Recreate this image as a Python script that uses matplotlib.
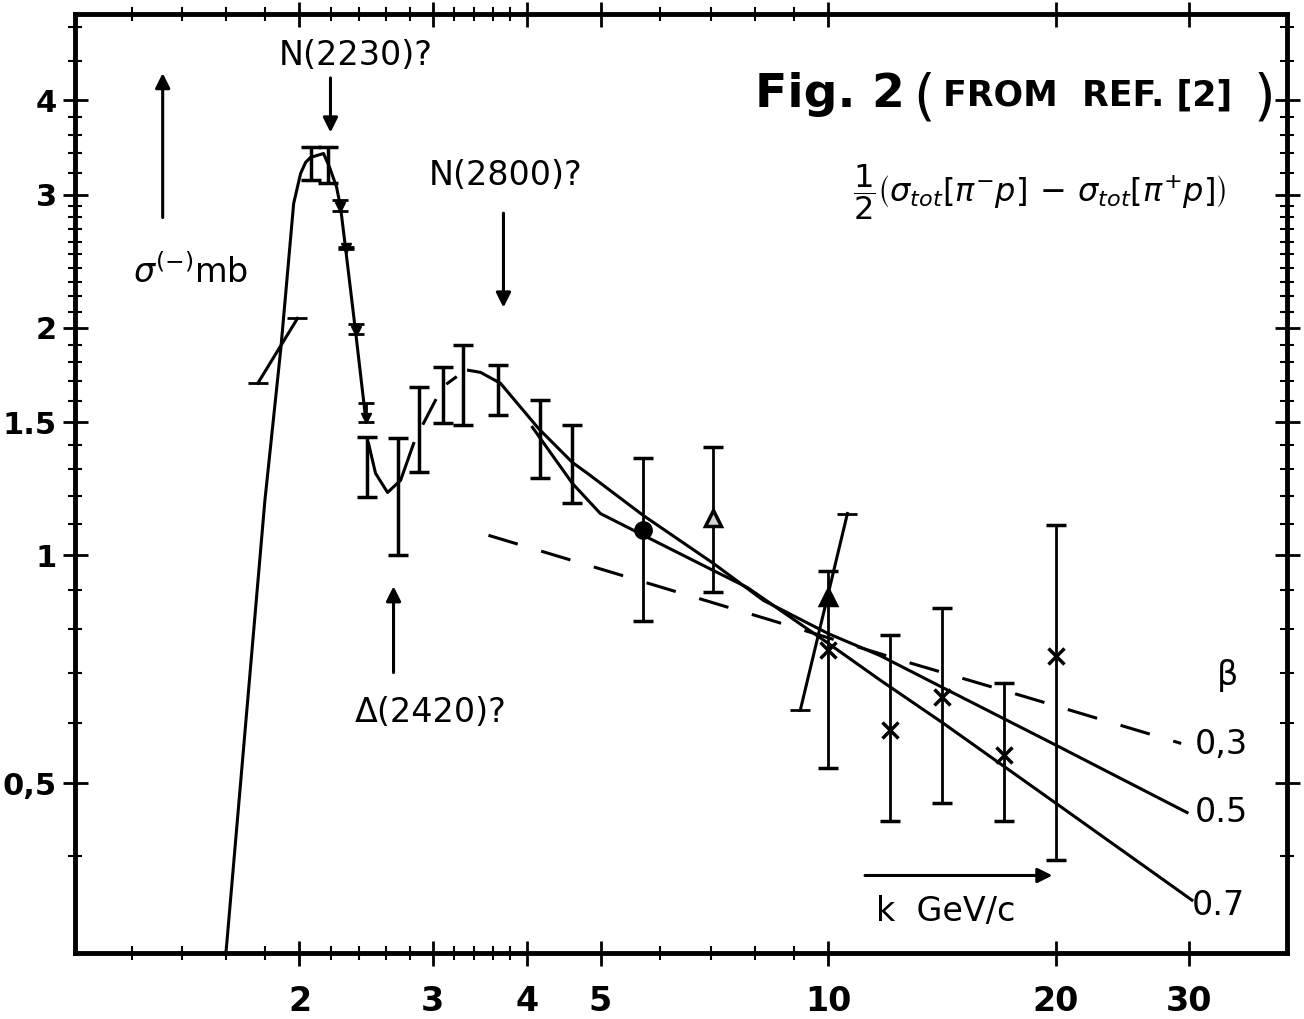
import numpy as np
import matplotlib
matplotlib.use('Agg')
import matplotlib.pyplot as plt
from matplotlib.ticker import FixedLocator, FixedFormatter, NullFormatter

# k in GeV/c, sigma(-) in mb

# resonance peak curve
peak_k = [1.60, 1.80, 1.89, 1.965, 2.007, 2.038, 2.069, 2.152, 2.192, 2.239, 2.266, 2.301, 2.372, 2.446]
peak_s = [0.30, 1.18, 1.88, 2.92, 3.20, 3.31, 3.36, 3.40, 3.26, 3.07, 2.89, 2.55, 1.98, 1.52]

# dip around 2.6 GeV/c
dip_k = [2.468, 2.521, 2.615, 2.721, 2.831]
dip_s = [1.406, 1.284, 1.211, 1.257, 1.406]

# dashed connectors between dip and second bump
conn1_k = [2.917, 3.025]
conn1_s = [1.495, 1.603]
conn2_k = [3.139, 3.216]
conn2_s = [1.689, 1.719]

# fits, beta = 0.5 / 0.7 (solid) and 0.3 (dashed)
fit05_k = [3.346, 3.470, 3.687, 4.139, 4.590, 4.804, 5.697, 7.048, 8.208, 10.0, 11.71, 14.15, 20.0, 29.8]
fit05_s = [1.757, 1.746, 1.689, 1.472, 1.327, 1.284, 1.129, 0.976, 0.872, 0.788, 0.737, 0.669, 0.561, 0.457]
fit07_k = [4.064, 4.590, 4.997, 5.697, 7.048, 7.816, 10.0, 11.71, 14.15, 20.0, 30.25]
fit07_s = [1.477, 1.245, 1.136, 1.063, 0.955, 0.907, 0.765, 0.684, 0.601, 0.470, 0.350]
fit03_k = [3.555, 8.433, 12.75, 18.32, 29.27]
fit03_s = [1.063, 0.820, 0.722, 0.649, 0.564]

# low energy error bars (no marker)
bar_k = [2.069, 2.179, 2.460, 2.696, 2.874, 3.100, 3.285, 3.665, 4.165, 4.590]
bar_hi = [3.465, 3.465, 1.432, 1.428, 1.668, 1.773, 1.896, 1.784, 1.603, 1.486]
bar_lo = [3.133, 3.105, 1.193, 1.000, 1.288, 1.495, 1.486, 1.532, 1.264, 1.172]

# small triangles on the falling edge
tri_k = [2.266, 2.301, 2.372, 2.446]
tri_s = [2.89, 2.55, 1.98, 1.52]
tri_hi = [2.95, 2.56, 2.02, 1.59]
tri_lo = [2.85, 2.54, 1.96, 1.50]

# short slanted segments with caps
seg1_k = [1.762, 1.988]
seg1_s = [1.689, 2.058]
seg2_k = [9.183, 10.6]
seg2_s = [0.624, 1.136]

# high energy points
hk = [5.697, 7.048, 10.0, 12.07, 14.15, 17.08, 20.0]
hs = [1.079, 1.119, 0.880, 0.587, 0.649, 0.544, 0.737]
hs_hi = [1.344, 1.390, 0.955, 0.784, 0.851, 0.677, 1.096]
hs_lo = [0.820, 0.894, 0.524, 0.446, 0.470, 0.446, 0.395]
h_marker = ['o', '^', '^', 'x', 'x', 'x', 'x']
h_face = ['black', 'lightgray', 'black', 'black', 'black', 'black', 'black']
extra_x_k = [10.0]
extra_x_s = [0.749]

x_major = [2, 3, 4, 5, 10, 20, 30]
x_labels = ['2', '3', '4', '5', '10', '20', '30']
x_minor = [1.2, 1.4, 1.6, 1.8, 2.2, 2.4, 2.6, 2.8, 3.2, 3.4, 3.6, 3.8, 6, 7, 8, 9]
y_major = [0.5, 1, 1.5, 2, 3, 4]
y_labels = ['0,5', '1', '1.5', '2', '3', '4']
y_minor = [0.4, 0.6, 0.7, 0.8, 0.9, 1.1, 1.2, 1.3, 1.4, 1.6, 1.7, 1.8, 1.9,
           2.1, 2.2, 2.3, 2.4, 2.5, 2.6, 2.7, 2.8, 2.9, 3.2, 3.4, 3.6, 3.8, 4.5, 5]

fig = plt.figure(figsize=(13.04, 10.19), dpi=100)
ax = fig.add_axes([0.0575, 0.0648, 0.9295, 0.9215])
ax.set_xscale('log')
ax.set_yscale('log')
ax.set_xlim(1.01, 40.4)
ax.set_ylim(0.298, 5.2)

lw = 2.2
ax.plot(peak_k, peak_s, color='black', lw=lw)
ax.plot(dip_k, dip_s, color='black', lw=lw)
ax.plot(conn1_k, conn1_s, color='black', lw=lw)
ax.plot(conn2_k, conn2_s, color='black', lw=lw)
ax.plot(fit05_k, fit05_s, color='black', lw=lw)
ax.plot(fit07_k, fit07_s, color='black', lw=lw)
ax.plot(fit03_k, fit03_s, color='black', lw=lw, dashes=(10, 8))

mid = np.sqrt(np.array(bar_hi) * np.array(bar_lo))
ax.errorbar(bar_k, mid, yerr=[mid - np.array(bar_lo), np.array(bar_hi) - mid],
            fmt='none', ecolor='black', elinewidth=2.5, capsize=7, capthick=2.5)

ts = np.array(tri_s)
ax.errorbar(tri_k, ts, yerr=[ts - np.array(tri_lo), np.array(tri_hi) - ts],
            fmt='v', color='black', ms=7, elinewidth=2, capsize=6, capthick=2)

for sk, ss in [(seg1_k, seg1_s), (seg2_k, seg2_s)]:
    ax.plot(sk, ss, color='black', lw=lw, marker='_', ms=14, mew=2)

for i in range(len(hk)):
    ax.errorbar([hk[i]], [hs[i]], yerr=[[hs[i] - hs_lo[i]], [hs_hi[i] - hs[i]]],
                fmt=h_marker[i], color='black', mfc=h_face[i], mec='black',
                ms=11, mew=2.5, elinewidth=2, capsize=7, capthick=2)
ax.plot(extra_x_k, extra_x_s, 'x', color='black', ms=11, mew=2.5)

# axes frame and ticks
for sp in ax.spines.values():
    sp.set_linewidth(3.5)
ax.xaxis.set_major_locator(FixedLocator(x_major))
ax.xaxis.set_major_formatter(FixedFormatter(x_labels))
ax.xaxis.set_minor_locator(FixedLocator(x_minor))
ax.xaxis.set_minor_formatter(NullFormatter())
ax.yaxis.set_major_locator(FixedLocator(y_major))
ax.yaxis.set_major_formatter(FixedFormatter(y_labels))
ax.yaxis.set_minor_locator(FixedLocator(y_minor))
ax.yaxis.set_minor_formatter(NullFormatter())
ax.tick_params(which='both', direction='inout', top=True, right=True)
ax.tick_params(which='major', length=18, width=2)
ax.tick_params(which='minor', length=10, width=1.5)
ax.tick_params(axis='x', pad=14, labelsize=24)
ax.tick_params(axis='y', pad=4, labelsize=22)
for lab in ax.get_xticklabels() + ax.get_yticklabels():
    lab.set_fontweight('bold')

arrow = dict(arrowstyle='-|>', lw=2.2, color='black', mutation_scale=22)

ax.text(2.372, 4.585, 'N(2230)?', fontsize=24, ha='center', va='center')
ax.annotate('', xy=(2.198, 3.594), xytext=(2.198, 4.315), arrowprops=arrow)
ax.text(3.744, 3.18, 'N(2800)?', fontsize=24, ha='center', va='center')
ax.annotate('', xy=(3.721, 2.109), xytext=(3.721, 2.859), arrowprops=arrow)
ax.text(2.98, 0.620, 'Δ(2420)?', fontsize=24, ha='center', va='center')
ax.annotate('', xy=(2.663, 0.918), xytext=(2.663, 0.694), arrowprops=arrow)
ax.text(1.436, 2.368, r'$\sigma^{(-)}$mb', fontsize=24, ha='center', va='center')
ax.annotate('', xy=(1.319, 4.38), xytext=(1.319, 2.774), arrowprops=arrow)
ax.annotate('', xy=(19.95, 0.3773), xytext=(11.09, 0.3773), arrowprops=arrow)

tr = ax.transAxes
ax.text(0.561, 0.914, 'Fig. 2', fontsize=34, fontweight='bold', ha='left', va='center', transform=tr)
ax.text(0.692, 0.910, '(', fontsize=40, ha='left', va='center', transform=tr)
ax.text(0.716, 0.913, 'FROM  REF. [2]', fontsize=25, fontweight='bold', ha='left', va='center', transform=tr)
ax.text(0.972, 0.910, ')', fontsize=40, ha='left', va='center', transform=tr)
ax.text(0.796, 0.81, r'$\dfrac{1}{2}\left(\sigma_{tot}[\pi^{-}p]\,-\,\sigma_{tot}[\pi^{+}p]\right)$',
        fontsize=23, ha='center', va='center', transform=tr)
ax.text(0.951, 0.296, 'β', fontsize=24, ha='center', va='center', transform=tr)
ax.text(0.946, 0.2215, '0,3', fontsize=24, ha='center', va='center', transform=tr)
ax.text(0.946, 0.150, '0.5', fontsize=24, ha='center', va='center', transform=tr)
ax.text(0.943, 0.051, '0.7', fontsize=24, ha='center', va='center', transform=tr)
ax.text(0.718, 0.0437, 'k  GeV/c', fontsize=24, ha='center', va='center', transform=tr)

fig.savefig('out.png', dpi=100)
